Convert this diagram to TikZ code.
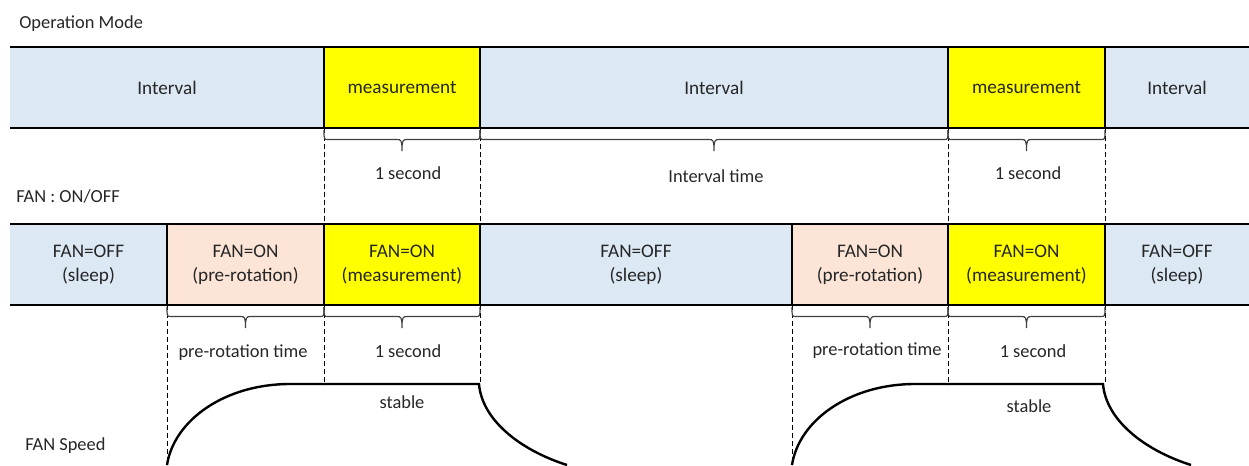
\documentclass[tikz,border=0pt]{standalone}
\usepackage{fontspec}
\setmainfont{Carlito}
\definecolor{bluefill}{HTML}{DCE9F5}
\definecolor{pinkfill}{HTML}{FCE4D6}
\definecolor{yellowfill}{HTML}{FFFF00}
\definecolor{txt}{HTML}{262626}
\tikzset{
  px/.style={x=0.75pt,y=-0.75pt},
  seg/.style={draw=none,minimum height=60.75pt,inner sep=0pt,outer sep=0pt,anchor=north west,align=center,text=txt,font=\fontsize{14.4pt}{18pt}\selectfont},
  lab/.style={inner sep=0pt,text=txt,font=\fontsize{13.8pt}{16pt}\selectfont},
  vsep/.style={line width=1.7pt,black},
  hsep/.style={line width=1.9pt,black},
  guide/.style={line width=0.75pt,dashed,dash pattern=on 3.5pt off 2.5pt,black},
  bracepath/.style={line width=0.85pt,draw=black!75},
  speed/.style={line width=1.8pt,black}
}
\newcommand{\segbox}[6]{% name, x, y, width px, fill, text
  \node[seg,fill=#5,minimum width=#4*0.75pt,text width=#4*0.75pt] (#1) at (#2,#3) {#6};}
\newcommand{\tbrace}[2]{% left coordinate, right coordinate
  \path (#1) ++(0,2) coordinate (bl) (#2) ++(0,2) coordinate (br);
  \path (bl) -- (br) coordinate[midway] (bm);
  \draw[bracepath] (bl) .. controls ($(bl)+(0,9.5)$) and ($(bl)+(0,9.5)$) .. ($(bl)+(4,9.5)$)
     -- ($(bm)+(-5,9.5)$) .. controls ($(bm)+(-1,9.5)$) and ($(bm)+(0,10)$) .. ($(bm)+(0,21)$)
     .. controls ($(bm)+(0,10)$) and ($(bm)+(1,9.5)$) .. ($(bm)+(5,9.5)$)
     -- ($(br)+(-4,9.5)$) .. controls ($(br)+(0,9.5)$) and ($(br)+(0,9.5)$) .. (br);}
\usetikzlibrary{calc}
\begin{document}
\begin{tikzpicture}[px]
\useasboundingbox (0,0) rectangle (1249,465);
% row 1
\segbox{a1}{10}{47}{314}{bluefill}{Interval}
\segbox{a2}{324}{47}{156}{yellowfill}{measurement}
\segbox{a3}{480}{47}{468}{bluefill}{Interval}
\segbox{a4}{948}{47}{157}{yellowfill}{measurement}
\segbox{a5}{1105}{47}{144}{bluefill}{Interval}
% row 2
\segbox{b1}{10}{224}{157}{bluefill}{FAN=OFF\\(sleep)}
\segbox{b2}{167}{224}{157}{pinkfill}{FAN=ON\\(pre-rotation)}
\segbox{b3}{324}{224}{156}{yellowfill}{FAN=ON\\(measurement)}
\segbox{b4}{480}{224}{312}{bluefill}{FAN=OFF\\(sleep)}
\segbox{b5}{792}{224}{156}{pinkfill}{FAN=ON\\(pre-rotation)}
\segbox{b6}{948}{224}{157}{yellowfill}{FAN=ON\\(measurement)}
\segbox{b7}{1105}{224}{144}{bluefill}{FAN=OFF\\(sleep)}
% separators
\foreach \n in {a2,a3,a4,a5,b2,b3,b4,b5,b6,b7} \draw[vsep] (\n.north west) -- (\n.south west);
\draw[hsep] (a1.north west) -- (a5.north east);
\draw[hsep] (a1.south west) -- (a5.south east);
\draw[hsep] (b1.north west) -- (b7.north east);
\draw[hsep] (b1.south west) -- (b7.south east);
% guides
\coordinate (s1) at (167,465);
\coordinate (s2) at (290,384);
\coordinate (s3) at (479,384);
\coordinate (s4) at (567,465);
\coordinate (s5) at (792,465);
\coordinate (s6) at (915,384);
\coordinate (s7) at (1103,384);
\coordinate (s8) at (1191,465);
\draw[guide] (a2.south west) -- (b3.north west);
\draw[guide] (a3.south west) -- (b4.north west);
\draw[guide] (a4.south west) -- (b6.north west);
\draw[guide] (a5.south west) -- (b7.north west);
\draw[guide] (b2.south west) -- (s1);
\draw[guide] (b3.south west) -- ++(0,80);
\draw[guide] (b4.south west) -- ++(0,78);
\draw[guide] (b5.south west) -- (s5);
\draw[guide] (b6.south west) -- ++(0,80);
\draw[guide] (b7.south west) -- ++(0,78);
\draw[guide] (b6.north east) -- (b6.south east);
% braces
\tbrace{a2.south west}{a2.south east}
\tbrace{a3.south west}{a3.south east}
\tbrace{a4.south west}{a4.south east}
\tbrace{b2.south west}{b2.south east}
\tbrace{b3.south west}{b3.south east}
\tbrace{b5.south west}{b5.south east}
\tbrace{b6.south west}{b6.south east}
% speed
\draw[speed] (s1) .. controls (174,420) and (225,384) .. (s2) -- (s3)
   .. controls (482,420) and (520,450) .. (s4);
\draw[speed] (s5) .. controls (799,420) and (850,384) .. (s6) -- (s7)
   .. controls (1106,420) and (1144,450) .. (s8);
% labels
\node[lab,anchor=west] (t1) at (19,24) {Operation Mode};
\node[lab,anchor=west] (t2) at (16,196) {FAN : ON/OFF};
\node[lab,anchor=west] (t3) at (25,446) {FAN Speed};
\node[lab] (l1) at (408,173) {1 second};
\node[lab] (l2) at (716,176) {Interval time};
\node[lab] (l3) at (1028,173) {1 second};
\node[lab] (l4) at (243,353) {pre-rotation time};
\node[lab] (l5) at (408,351) {1 second};
\node[lab] (l6) at (877,351) {pre-rotation time};
\node[lab] (l7) at (1033,351) {1 second};
\node[lab] (l8) at (402,402) {stable};
\node[lab] (l9) at (1029,406) {stable};
\end{tikzpicture}
\end{document}
